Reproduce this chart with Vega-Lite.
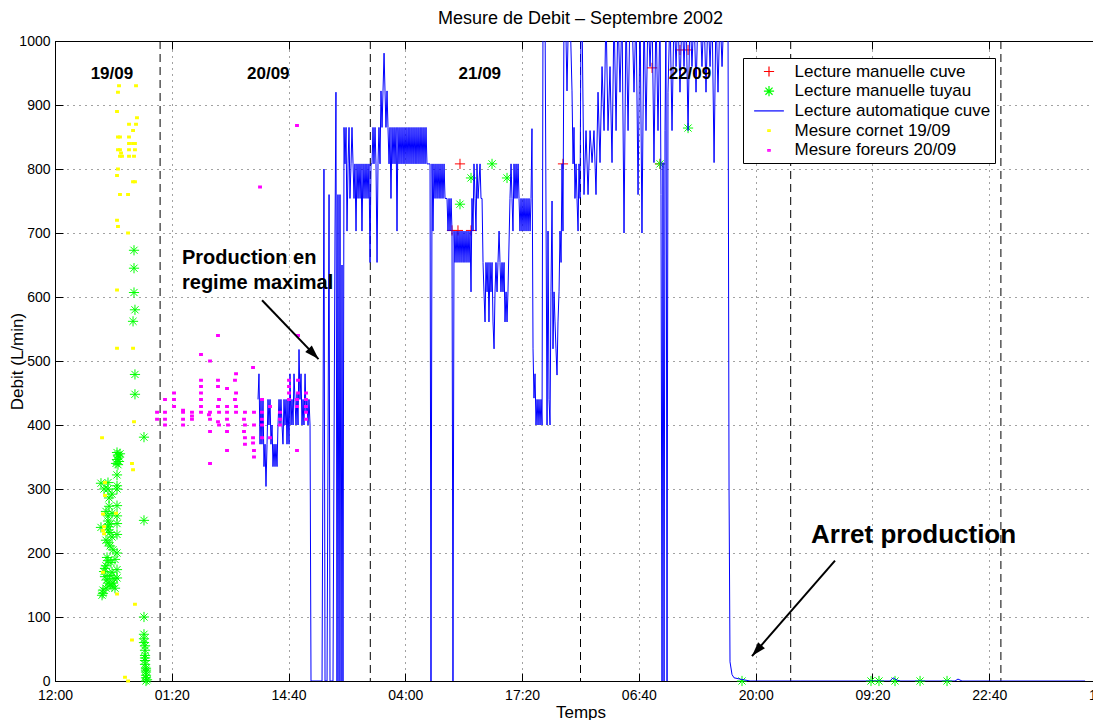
{
"$schema": "https://vega.github.io/schema/vega-lite/v6.json",
"width": 1051, "height": 640,
"autosize": {"type": "none"},
"padding": {"left": 55, "top": 41, "right": 0, "bottom": 39},
"background": "white",
"config": {
  "font": "Liberation Sans",
  "view": {"stroke": "black", "strokeWidth": 1},
  "axis": {"domainColor": "black", "tickColor": "black", "labelColor": "black", "titleColor": "black", "labelFont": "Liberation Sans", "titleFont": "Liberation Sans", "titleFontWeight": "normal", "labelFontSize": 14, "titleFontSize": 17, "tickSize": -8, "domainWidth": 1, "tickWidth": 1}
},
"title": {"text": "Mesure de Debit – Septembre 2002", "fontSize": 18, "fontWeight": "normal", "font": "Liberation Sans", "color": "black", "baseline": "alphabetic", "offset": -8, "anchor": "middle"},
"resolve": {"axis": {"x": "independent", "y": "independent"}},
"layer": [
{
 "data": {"values": [{"t":12},{"t":36},{"t":60},{"t":84},{"t":108}]},
 "mark": {"type": "rule", "color": "black", "strokeDash": [8,5], "strokeWidth": 1},
 "encoding": {"x": {"field": "t", "type": "quantitative", "scale": {"domain": [0,120], "nice": false, "zero": false},
   "axis": {"orient": "bottom", "values": [0,13.333333,26.666667,40,53.333333,66.666667,80,93.333333,106.666667,120], "labelExpr": "['12:00','01:20','14:40','04:00','17:20','06:40','20:00','09:20','22:40','12:00'][round(datum.value*0.075)]", "grid": true, "gridDash": [1,5], "gridColor": "#444", "labelPadding": 15, "title": "Temps", "titleBaseline": "alphabetic", "titleY": 36.5, "labelFlush": false, "labelOverlap": false}}}
},
{
 "data": {"values": [
  {"t":45.33,"v":704,"s":"Lecture manuelle cuve"},{"t":46.01,"v":704,"s":"Lecture manuelle cuve"},{"t":46.24,"v":808,"s":"Lecture manuelle cuve"},{"t":47.50,"v":704,"s":"Lecture manuelle cuve"},{"t":58.00,"v":808,"s":"Lecture manuelle cuve"},{"t":69.08,"v":808,"s":"Lecture manuelle cuve"},{"t":68.17,"v":958,"s":"Lecture manuelle cuve"},{"t":71.36,"v":986,"s":"Lecture manuelle cuve"},{"t":72.28,"v":986,"s":"Lecture manuelle cuve"}
 ]},
 "mark": {"type": "point", "filled": false, "size": 289, "strokeWidth": 1, "opacity": 1},
 "encoding": {
  "x": {"field": "t", "type": "quantitative", "scale": {"domain": [0,120], "nice": false, "zero": false}, "axis": {"orient": "top", "values": [0,13.333333,26.666667,40,53.333333,66.666667,80,93.333333,106.666667,120], "labels": false, "grid": false, "title": null}},
  "y": {"field": "v", "type": "quantitative", "scale": {"domain": [0,1000], "nice": false}, "axis": {"orient": "right", "values": [0,100,200,300,400,500,600,700,800,900,1000], "labels": false, "grid": false, "title": null}},
  "color": {"field": "s", "type": "nominal", "scale": {"domain": ["Lecture manuelle cuve","Lecture manuelle tuyau","Lecture automatique cuve","Mesure cornet 19/09","Mesure foreurs 20/09"], "range": ["#ff0000","#00ff00","#0000ff","#ffff00","#ff00ff"]}},
  "shape": {"field": "s", "type": "nominal", "scale": {"domain": ["Lecture manuelle cuve","Lecture manuelle tuyau","Lecture automatique cuve","Mesure cornet 19/09","Mesure foreurs 20/09"], "range": ["M-0.6,0H0.6M0,-0.6V0.6","M-0.6,0H0.6M0,-0.6V0.6M-0.42,-0.42L0.42,0.42M-0.42,0.42L0.42,-0.42","M-1.75,0H1.75","M-0.14,-0.09H0.14V0.09H-0.14Z","M-0.14,-0.09H0.14V0.09H-0.14Z"]}}
 }
},
{
 "data": {"values": [
  {"t":9.02,"v":673},{"t":9.02,"v":645},{"t":9.02,"v":607},{"t":9.13,"v":580},{"t":8.91,"v":562},{"t":9.13,"v":479},{"t":9.13,"v":448},{"t":10.16,"v":381},{"t":10.16,"v":251},
  {"t":7.08,"v":357},{"t":7.19,"v":353},{"t":7.31,"v":350},{"t":7.08,"v":346},{"t":7.31,"v":343},{"t":6.97,"v":340},{"t":7.42,"v":355},{"t":7.19,"v":338},
  {"t":7.08,"v":322},{"t":5.25,"v":309},{"t":6.05,"v":310},{"t":6.05,"v":300},{"t":7.08,"v":305},{"t":7.08,"v":300},{"t":6.17,"v":286},{"t":6.17,"v":273},{"t":7.08,"v":274},
  {"t":6.05,"v":258},{"t":6.05,"v":250},{"t":6.28,"v":245},{"t":6.05,"v":236},{"t":6.28,"v":232},{"t":6.05,"v":241},{"t":5.25,"v":240},{"t":7.08,"v":258},{"t":7.08,"v":246},{"t":7.08,"v":229},{"t":6.05,"v":216},{"t":6.28,"v":211},{"t":7.08,"v":200},{"t":5.94,"v":193},{"t":6.05,"v":188},{"t":6.39,"v":185},
  {"t":5.71,"v":176},{"t":5.60,"v":171},{"t":5.71,"v":163},{"t":5.94,"v":158},{"t":6.05,"v":153},{"t":6.51,"v":148},{"t":6.62,"v":153},{"t":7.08,"v":174},{"t":7.08,"v":161},{"t":6.85,"v":145},{"t":5.48,"v":142},{"t":5.48,"v":137},{"t":5.37,"v":134},
  {"t":5.82,"v":180},{"t":6.28,"v":165},{"t":6.51,"v":170},{"t":6.74,"v":160},{"t":6.28,"v":150},{"t":5.82,"v":145},{"t":6.85,"v":190},{"t":6.62,"v":205},{"t":5.82,"v":220},{"t":6.51,"v":225},{"t":5.82,"v":265},{"t":6.51,"v":262},{"t":5.60,"v":300},{"t":6.51,"v":292},
  {"t":10.16,"v":100},{"t":10.16,"v":73},{"t":10.16,"v":60},{"t":10.28,"v":48},{"t":10.28,"v":40},{"t":10.28,"v":32},{"t":10.28,"v":26},{"t":10.39,"v":20},{"t":10.39,"v":14},{"t":10.39,"v":9},{"t":10.39,"v":5},{"t":10.51,"v":2},{"t":10.39,"v":0},{"t":10.28,"v":55},{"t":10.16,"v":66},{"t":10.28,"v":36},{"t":10.39,"v":17},
  {"t":46.24,"v":745},{"t":47.50,"v":786},{"t":49.90,"v":808},{"t":51.61,"v":786},{"t":69.08,"v":808},{"t":72.28,"v":864},{"t":78.44,"v":0},{"t":93.17,"v":0},{"t":94.08,"v":0},{"t":95.91,"v":0},{"t":98.77,"v":0},{"t":101.85,"v":0}
 ]},
 "transform": [{"calculate": "'Lecture manuelle tuyau'", "as": "s"}],
 "mark": {"type": "point", "filled": false, "size": 289, "strokeWidth": 1, "opacity": 1},
 "encoding": {
  "x": {"field": "t", "type": "quantitative", "scale": {"domain": [0,120], "nice": false, "zero": false}, "axis": null},
  "y": {"field": "v", "type": "quantitative", "scale": {"domain": [0,1000], "nice": false}, "axis": null},
  "color": {"field": "s", "type": "nominal"},
  "shape": {"field": "s", "type": "nominal"}
 }
},
{
 "data": {"values": [
{"t":23.18,"v":440},{"t":23.29,"v":480},{"t":23.41,"v":370},{"t":23.52,"v":440},{"t":23.63,"v":370},{"t":23.75,"v":440},{"t":23.86,"v":335},{"t":23.98,"v":370},{"t":24.09,"v":304},{"t":24.21,"v":370},{"t":24.32,"v":440},{"t":24.43,"v":400},{"t":24.55,"v":440},{"t":24.66,"v":370},{"t":24.78,"v":400},{"t":24.89,"v":335},{"t":25.01,"v":370},{"t":25.12,"v":335},{"t":25.23,"v":370},{"t":25.35,"v":335},{"t":25.46,"v":400},{"t":25.58,"v":440},{"t":25.69,"v":400},{"t":25.80,"v":440},{"t":25.92,"v":400},{"t":26.03,"v":370},{"t":26.15,"v":440},{"t":26.26,"v":400},{"t":26.38,"v":440},{"t":26.49,"v":370},{"t":26.60,"v":440},{"t":26.72,"v":370},{"t":26.83,"v":480},{"t":26.95,"v":400},{"t":27.06,"v":440},{"t":27.18,"v":400},{"t":27.29,"v":480},{"t":27.40,"v":440},{"t":27.52,"v":400},{"t":27.63,"v":450},{"t":27.75,"v":400},{"t":27.86,"v":518},{"t":27.97,"v":440},{"t":28.09,"v":480},{"t":28.20,"v":400},{"t":28.32,"v":440},{"t":28.43,"v":400},{"t":28.55,"v":480},{"t":28.66,"v":420},{"t":28.77,"v":440},{"t":28.89,"v":400},{"t":29.00,"v":440},{"t":29.12,"v":400},{"t":29.23,"v":0},
{"t":30.49,"v":0},{"t":30.71,"v":800},{"t":30.83,"v":0},{"t":31.06,"v":0},{"t":31.29,"v":760},{"t":31.40,"v":0},{"t":31.74,"v":0},{"t":31.97,"v":700},{"t":32.08,"v":920},{"t":32.20,"v":0},{"t":32.31,"v":760},{"t":32.43,"v":0},{"t":32.54,"v":760},{"t":32.66,"v":0},{"t":32.77,"v":650},{"t":32.88,"v":0},
{"t":33.00,"v":865},{"t":33.11,"v":808},{"t":33.23,"v":865},{"t":33.34,"v":703},{"t":33.46,"v":808},{"t":33.57,"v":865},{"t":33.68,"v":754},{"t":33.80,"v":808},{"t":33.91,"v":865},{"t":34.03,"v":808},{"t":34.14,"v":754},{"t":34.25,"v":808},{"t":34.37,"v":703},{"t":34.48,"v":808},{"t":34.60,"v":754},{"t":34.71,"v":808},{"t":34.83,"v":754},{"t":34.94,"v":808},{"t":35.05,"v":703},{"t":35.17,"v":808},{"t":35.28,"v":754},{"t":35.40,"v":808},{"t":35.51,"v":754},{"t":35.62,"v":808},{"t":35.74,"v":754},{"t":35.85,"v":808},{"t":35.97,"v":654},{"t":36.08,"v":808},{"t":36.20,"v":808},{"t":36.31,"v":865},{"t":36.42,"v":808},{"t":36.54,"v":865},{"t":36.65,"v":808},{"t":36.77,"v":654},{"t":36.88,"v":808},{"t":36.99,"v":865},{"t":37.11,"v":808},{"t":37.22,"v":922},{"t":37.34,"v":865},{"t":37.45,"v":922},{"t":37.57,"v":981},{"t":37.68,"v":922},{"t":37.79,"v":865},{"t":37.91,"v":922},{"t":38.02,"v":865},{"t":38.14,"v":808},{"t":38.25,"v":865},{"t":38.36,"v":754},{"t":38.48,"v":865},{"t":38.59,"v":808},{"t":38.71,"v":865},{"t":38.82,"v":808},{"t":38.94,"v":865},{"t":39.05,"v":703},{"t":39.16,"v":865},{"t":39.28,"v":808},{"t":39.39,"v":865},{"t":39.51,"v":808},{"t":39.62,"v":865},{"t":39.74,"v":808},{"t":39.85,"v":865},{"t":39.96,"v":808},{"t":40.08,"v":865},{"t":40.19,"v":808},{"t":40.31,"v":865},{"t":40.42,"v":808},{"t":40.53,"v":865},{"t":40.65,"v":808},{"t":40.76,"v":865},{"t":40.88,"v":808},{"t":40.99,"v":865},{"t":41.11,"v":808},{"t":41.22,"v":865},{"t":41.33,"v":808},{"t":41.45,"v":865},{"t":41.56,"v":808},{"t":41.68,"v":865},{"t":41.79,"v":808},{"t":41.90,"v":865},{"t":42.02,"v":808},{"t":42.13,"v":865},{"t":42.25,"v":808},{"t":42.36,"v":865},{"t":42.47,"v":808},{"t":42.82,"v":808},{"t":42.93,"v":0},{"t":43.05,"v":808},{"t":43.16,"v":703},{"t":43.27,"v":808},{"t":43.39,"v":754},{"t":43.50,"v":808},{"t":43.62,"v":754},{"t":43.73,"v":808},{"t":43.85,"v":754},{"t":43.96,"v":808},{"t":44.07,"v":754},{"t":44.19,"v":808},{"t":44.30,"v":754},{"t":44.42,"v":808},{"t":44.53,"v":754},{"t":44.76,"v":754},{"t":44.87,"v":703},{"t":44.99,"v":754},{"t":45.10,"v":703},{"t":45.22,"v":754},{"t":45.33,"v":703},{"t":45.44,"v":0},{"t":45.56,"v":703},{"t":45.67,"v":654},{"t":45.79,"v":703},{"t":45.90,"v":654},{"t":46.01,"v":703},{"t":46.13,"v":654},{"t":46.24,"v":703},{"t":46.36,"v":654},{"t":46.47,"v":703},{"t":46.59,"v":654},{"t":46.70,"v":703},{"t":46.81,"v":654},{"t":46.93,"v":703},{"t":47.04,"v":654},{"t":47.16,"v":703},{"t":47.27,"v":654},{"t":47.39,"v":703},{"t":47.50,"v":608},{"t":47.61,"v":754},{"t":47.73,"v":703},{"t":47.84,"v":808},{"t":47.96,"v":754},{"t":48.07,"v":703},{"t":48.18,"v":808},{"t":48.30,"v":754},{"t":48.53,"v":808},{"t":48.64,"v":754},{"t":48.76,"v":754},{"t":48.87,"v":654},{"t":48.98,"v":608},{"t":49.10,"v":561},{"t":49.21,"v":654},{"t":49.33,"v":608},{"t":49.44,"v":654},{"t":49.55,"v":561},{"t":49.67,"v":654},{"t":49.78,"v":608},{"t":49.90,"v":654},{"t":50.01,"v":561},{"t":50.13,"v":519},{"t":50.24,"v":608},{"t":50.35,"v":654},{"t":50.47,"v":608},{"t":50.58,"v":654},{"t":50.70,"v":703},{"t":50.81,"v":654},{"t":50.92,"v":608},{"t":51.04,"v":654},{"t":51.15,"v":608},{"t":51.27,"v":654},{"t":51.38,"v":561},{"t":51.50,"v":608},{"t":51.61,"v":561},{"t":51.72,"v":608},{"t":51.95,"v":754},{"t":52.07,"v":808},{"t":52.18,"v":754},{"t":52.29,"v":703},{"t":52.41,"v":808},{"t":52.52,"v":754},{"t":52.64,"v":808},{"t":52.75,"v":754},{"t":52.87,"v":808},{"t":52.98,"v":754},{"t":53.09,"v":703},{"t":53.21,"v":754},{"t":53.32,"v":703},{"t":53.44,"v":754},{"t":53.55,"v":703},{"t":53.66,"v":754},{"t":53.78,"v":703},{"t":53.89,"v":754},{"t":54.01,"v":703},{"t":54.12,"v":754},{"t":54.24,"v":703},{"t":54.35,"v":754},{"t":54.46,"v":863},{"t":54.58,"v":519},{"t":54.69,"v":442},{"t":54.81,"v":480},{"t":54.92,"v":400},{"t":55.04,"v":440},{"t":55.15,"v":400},{"t":55.26,"v":440},{"t":55.38,"v":400},{"t":55.49,"v":440},{"t":55.61,"v":400},{"t":55.72,"v":1050},{"t":55.95,"v":1050},{"t":56.18,"v":400},{"t":56.29,"v":703},{"t":56.41,"v":440},{"t":56.52,"v":400},{"t":56.63,"v":608},{"t":56.75,"v":750},{"t":56.86,"v":519},{"t":56.98,"v":608},{"t":57.09,"v":561},{"t":57.20,"v":519},{"t":57.32,"v":478},{"t":57.43,"v":561},{"t":57.55,"v":608},{"t":57.66,"v":703},{"t":57.78,"v":654},{"t":57.89,"v":808},{"t":58.00,"v":703},{"t":58.12,"v":1050},{"t":58.35,"v":1000},{"t":58.46,"v":922},{"t":58.57,"v":1000},{"t":58.80,"v":1050},{"t":59.03,"v":922},{"t":59.15,"v":808},{"t":59.26,"v":865},{"t":59.37,"v":754},{"t":59.49,"v":808},{"t":59.60,"v":754},{"t":59.72,"v":703},{"t":59.83,"v":808},{"t":59.95,"v":754},{"t":60.06,"v":1050},
{"t":60.17,"v":1050},{"t":60.40,"v":760},{"t":60.63,"v":860},{"t":60.86,"v":760},{"t":61.09,"v":860},{"t":61.32,"v":810},{"t":61.54,"v":860},{"t":61.77,"v":760},{"t":62.00,"v":920},{"t":62.23,"v":810},{"t":62.46,"v":960},{"t":62.69,"v":860},{"t":62.91,"v":1050},{"t":63.14,"v":860},{"t":63.37,"v":960},{"t":63.60,"v":810},{"t":63.83,"v":1050},{"t":64.06,"v":860},{"t":64.28,"v":1050},{"t":64.51,"v":920},{"t":64.74,"v":1050},{"t":64.97,"v":700},{"t":65.20,"v":1050},{"t":65.43,"v":860},{"t":65.65,"v":1050},{"t":65.88,"v":1050},{"t":66.11,"v":920},{"t":66.34,"v":1050},{"t":66.57,"v":760},{"t":66.80,"v":1050},{"t":67.02,"v":700},{"t":67.25,"v":1050},{"t":67.48,"v":860},{"t":67.71,"v":1050},{"t":67.94,"v":960},{"t":68.17,"v":1050},{"t":68.39,"v":810},{"t":68.62,"v":1050},{"t":68.85,"v":860},{"t":69.08,"v":1050},{"t":69.19,"v":760},{"t":69.31,"v":0},{"t":69.42,"v":810},{"t":69.54,"v":0},{"t":69.65,"v":860},{"t":69.76,"v":1050},{"t":69.88,"v":0},{"t":69.99,"v":920},{"t":70.22,"v":1050},{"t":70.45,"v":860},{"t":70.68,"v":1050},{"t":70.91,"v":960},{"t":71.13,"v":1050},{"t":71.36,"v":920},{"t":71.59,"v":1050},{"t":71.82,"v":960},{"t":72.05,"v":1050},{"t":72.28,"v":860},{"t":72.50,"v":1050},{"t":72.73,"v":960},{"t":72.96,"v":1050},{"t":73.19,"v":920},{"t":73.42,"v":1050},{"t":73.65,"v":1050},{"t":73.87,"v":960},{"t":74.10,"v":1050},{"t":74.33,"v":920},{"t":74.56,"v":1050},{"t":74.79,"v":960},{"t":75.02,"v":1050},{"t":75.25,"v":810},{"t":75.47,"v":1050},{"t":75.70,"v":920},{"t":75.93,"v":1050},{"t":76.16,"v":960},{"t":76.39,"v":1050},{"t":76.62,"v":1000},{"t":76.84,"v":1050},{"t":76.96,"v":300},{"t":77.07,"v":30},{"t":77.30,"v":10},{"t":77.53,"v":5},{"t":78.21,"v":3},{"t":79.36,"v":0},{"t":85.07,"v":0},{"t":95.34,"v":0},{"t":95.68,"v":5},{"t":96.03,"v":2},{"t":96.48,"v":0},{"t":102.76,"v":0},{"t":103.10,"v":3},{"t":103.56,"v":0},{"t":117.61,"v":0}
 ]},
 "transform": [{"calculate": "'Lecture automatique cuve'", "as": "s"}],
 "mark": {"type": "line", "strokeWidth": 1, "clip": true},
 "encoding": {
  "x": {"field": "t", "type": "quantitative", "scale": {"domain": [0,120], "nice": false, "zero": false}, "axis": null},
  "y": {"field": "v", "type": "quantitative", "scale": {"domain": [0,1000], "nice": false},
    "axis": {"orient": "left", "values": [0,100,200,300,400,500,600,700,800,900,1000], "format": "d", "grid": true, "gridDash": [1,5], "gridColor": "#444", "labelPadding": 13, "title": "Debit (L/min)", "titleBaseline": "alphabetic", "titleX": -33}},
  "color": {"field": "s", "type": "nominal", "legend": {"orient": "none", "legendX": 688, "legendY": 17, "title": null, "fillColor": "white", "strokeColor": "black", "padding": 4, "labelFontSize": 17, "labelFont": "Liberation Sans", "labelColor": "black", "labelLimit": 400, "symbolSize": 289, "symbolStrokeWidth": 1.2, "rowPadding": 1.7, "labelOffset": 16, "symbolOffset": 12.5, "cornerRadius": 0}},
  "order": {"field": "t", "type": "quantitative"}
 }
},
{
 "data": {"values": [
  {"t":7.31,"v":930},{"t":9.25,"v":930},{"t":7.19,"v":920},{"t":7.08,"v":890},{"t":9.36,"v":880},{"t":8.45,"v":870},{"t":9.25,"v":870},{"t":8.91,"v":860},{"t":7.19,"v":850},{"t":7.42,"v":850},{"t":8.45,"v":850},{"t":8.45,"v":840},{"t":8.91,"v":840},{"t":9.13,"v":840},{"t":7.19,"v":830},{"t":7.42,"v":830},{"t":8.45,"v":830},{"t":9.13,"v":830},{"t":7.54,"v":825},{"t":7.42,"v":820},{"t":7.65,"v":820},{"t":8.45,"v":820},{"t":9.02,"v":820},{"t":7.19,"v":800},{"t":7.08,"v":790},{"t":8.91,"v":780},{"t":9.13,"v":780},{"t":7.42,"v":760},{"t":8.34,"v":760},{"t":7.08,"v":720},{"t":7.19,"v":710},{"t":8.34,"v":700},{"t":7.08,"v":611},{"t":7.08,"v":520},{"t":8.91,"v":520},{"t":9.02,"v":405},{"t":5.37,"v":380},{"t":8.79,"v":340},{"t":8.91,"v":330},{"t":5.71,"v":310},{"t":5.71,"v":290},{"t":5.48,"v":261},{"t":6.97,"v":262},{"t":5.60,"v":241},{"t":5.48,"v":235},{"t":5.60,"v":230},{"t":5.48,"v":170},{"t":7.08,"v":136},{"t":9.13,"v":120},{"t":8.79,"v":64},{"t":7.99,"v":6},{"t":8.34,"v":0}
 ]},
 "transform": [{"calculate": "'Mesure cornet 19/09'", "as": "s"}],
 "mark": {"type": "point", "filled": false, "size": 289, "strokeWidth": 1.5, "opacity": 1},
 "encoding": {
  "x": {"field": "t", "type": "quantitative", "scale": {"domain": [0,120], "nice": false, "zero": false}, "axis": null},
  "y": {"field": "v", "type": "quantitative", "scale": {"domain": [0,1000], "nice": false}, "axis": null},
  "color": {"field": "s", "type": "nominal"},
  "shape": {"field": "s", "type": "nominal"}
 }
},
{
 "data": {"values": [
  {"t":11.65,"v":420},{"t":11.65,"v":409},{"t":12.56,"v":440},{"t":12.56,"v":420},{"t":12.56,"v":409},{"t":12.56,"v":400},{"t":13.59,"v":450},{"t":13.59,"v":440},{"t":13.59,"v":429},{"t":14.62,"v":423},{"t":14.62,"v":420},{"t":14.62,"v":409},{"t":14.62,"v":400},{"t":15.64,"v":420},{"t":15.64,"v":414},{"t":15.64,"v":409},{"t":16.67,"v":510},{"t":16.67,"v":470},{"t":16.67,"v":460},{"t":16.67,"v":450},{"t":16.67,"v":440},{"t":16.67,"v":429},{"t":16.67,"v":420},{"t":17.70,"v":500},{"t":17.70,"v":420},{"t":17.58,"v":416},{"t":17.70,"v":409},{"t":17.70,"v":390},{"t":17.70,"v":340},{"t":18.61,"v":540},{"t":18.61,"v":470},{"t":18.61,"v":460},{"t":18.73,"v":440},{"t":18.61,"v":429},{"t":18.73,"v":420},{"t":18.61,"v":405},{"t":18.73,"v":400},{"t":19.64,"v":457},{"t":19.64,"v":429},{"t":19.64,"v":420},{"t":19.64,"v":409},{"t":19.75,"v":400},{"t":19.64,"v":390},{"t":19.64,"v":360},{"t":20.67,"v":480},{"t":20.55,"v":470},{"t":20.67,"v":450},{"t":20.55,"v":440},{"t":20.67,"v":429},{"t":20.67,"v":420},{"t":21.69,"v":420},{"t":21.58,"v":409},{"t":21.69,"v":400},{"t":21.58,"v":390},{"t":21.69,"v":380},{"t":21.69,"v":370},{"t":22.61,"v":490},{"t":22.72,"v":420},{"t":22.72,"v":400},{"t":22.61,"v":380},{"t":22.61,"v":372},{"t":22.72,"v":360},{"t":22.72,"v":350},{"t":23.64,"v":440},{"t":23.64,"v":420},{"t":23.64,"v":409},{"t":23.64,"v":400},{"t":23.64,"v":380},{"t":24.55,"v":429},{"t":24.55,"v":380},{"t":25.69,"v":420},{"t":25.69,"v":409},{"t":25.69,"v":400},{"t":26.72,"v":470},{"t":26.72,"v":460},{"t":26.72,"v":450},{"t":26.72,"v":440},{"t":27.63,"v":440},{"t":27.63,"v":429},{"t":27.63,"v":360},{"t":27.75,"v":450},{"t":27.75,"v":470},{"t":28.66,"v":450},{"t":28.66,"v":440},{"t":28.66,"v":429},{"t":28.66,"v":420},{"t":28.66,"v":409},{"t":27.75,"v":540},{"t":23.41,"v":772},{"t":27.63,"v":868}
 ]},
 "transform": [{"calculate": "'Mesure foreurs 20/09'", "as": "s"}],
 "mark": {"type": "point", "filled": false, "size": 289, "strokeWidth": 1.5, "opacity": 1},
 "encoding": {
  "x": {"field": "t", "type": "quantitative", "scale": {"domain": [0,120], "nice": false, "zero": false}, "axis": null},
  "y": {"field": "v", "type": "quantitative", "scale": {"domain": [0,1000], "nice": false}, "axis": null},
  "color": {"field": "s", "type": "nominal"},
  "shape": {"field": "s", "type": "nominal"}
 }
},
{
 "data": {"values": [{"t":6.5,"v":941,"label":"19/09"},{"t":24.35,"v":941,"label":"20/09"},{"t":48.5,"v":941,"label":"21/09"},{"t":72.5,"v":941,"label":"22/09"}]},
 "mark": {"type": "text", "fontSize": 17, "fontWeight": "bold", "align": "center", "baseline": "alphabetic", "color": "black", "font": "Liberation Sans"},
 "encoding": {
  "x": {"field": "t", "type": "quantitative", "scale": {"domain": [0,120], "nice": false, "zero": false}, "axis": null},
  "y": {"field": "v", "type": "quantitative", "scale": {"domain": [0,1000], "nice": false}, "axis": null},
  "text": {"field": "label"}
 }
},
{
 "data": {"values": [{"t":14.5,"v":652,"label":"Production en"},{"t":14.5,"v":612,"label":"regime maximal"}]},
 "mark": {"type": "text", "fontSize": 20, "fontWeight": "bold", "align": "left", "baseline": "alphabetic", "color": "black", "font": "Liberation Sans"},
 "encoding": {
  "x": {"field": "t", "type": "quantitative", "scale": {"domain": [0,120], "nice": false, "zero": false}, "axis": null},
  "y": {"field": "v", "type": "quantitative", "scale": {"domain": [0,1000], "nice": false}, "axis": null},
  "text": {"field": "label"}
 }
},
{
 "data": {"values": [{"t":98.03,"v":216,"label":"Arret production"}]},
 "mark": {"type": "text", "fontSize": 26, "fontWeight": "bold", "align": "center", "baseline": "alphabetic", "color": "black", "font": "Liberation Sans"},
 "encoding": {
  "x": {"field": "t", "type": "quantitative", "scale": {"domain": [0,120], "nice": false, "zero": false}, "axis": null},
  "y": {"field": "v", "type": "quantitative", "scale": {"domain": [0,1000], "nice": false}, "axis": null},
  "text": {"field": "label"}
 }
},
{
 "data": {"values": [{"t":23.64,"v":595,"t2":30.09,"v2":503},{"t":89.06,"v":188,"t2":79.58,"v2":39}]},
 "mark": {"type": "rule", "color": "black", "strokeWidth": 2},
 "encoding": {
  "x": {"field": "t", "type": "quantitative", "scale": {"domain": [0,120], "nice": false, "zero": false}, "axis": null},
  "y": {"field": "v", "type": "quantitative", "scale": {"domain": [0,1000], "nice": false}, "axis": null},
  "x2": {"field": "t2"},
  "y2": {"field": "v2"}
 }
},
{
 "data": {"values": [{"t":30.09,"v":503}]},
 "mark": {"type": "point", "filled": true, "color": "black", "opacity": 1, "size": 576, "shape": "M0,0L-0.38,1.2L0.38,1.2Z", "angle": 136},
 "encoding": {
  "x": {"field": "t", "type": "quantitative", "scale": {"domain": [0,120], "nice": false, "zero": false}, "axis": null},
  "y": {"field": "v", "type": "quantitative", "scale": {"domain": [0,1000], "nice": false}, "axis": null}
 }
},
{
 "data": {"values": [{"t":79.58,"v":39}]},
 "mark": {"type": "point", "filled": true, "color": "black", "opacity": 1, "size": 576, "shape": "M0,0L-0.38,1.2L0.38,1.2Z", "angle": 221.5},
 "encoding": {
  "x": {"field": "t", "type": "quantitative", "scale": {"domain": [0,120], "nice": false, "zero": false}, "axis": null},
  "y": {"field": "v", "type": "quantitative", "scale": {"domain": [0,1000], "nice": false}, "axis": null}
 }
}
]
}
